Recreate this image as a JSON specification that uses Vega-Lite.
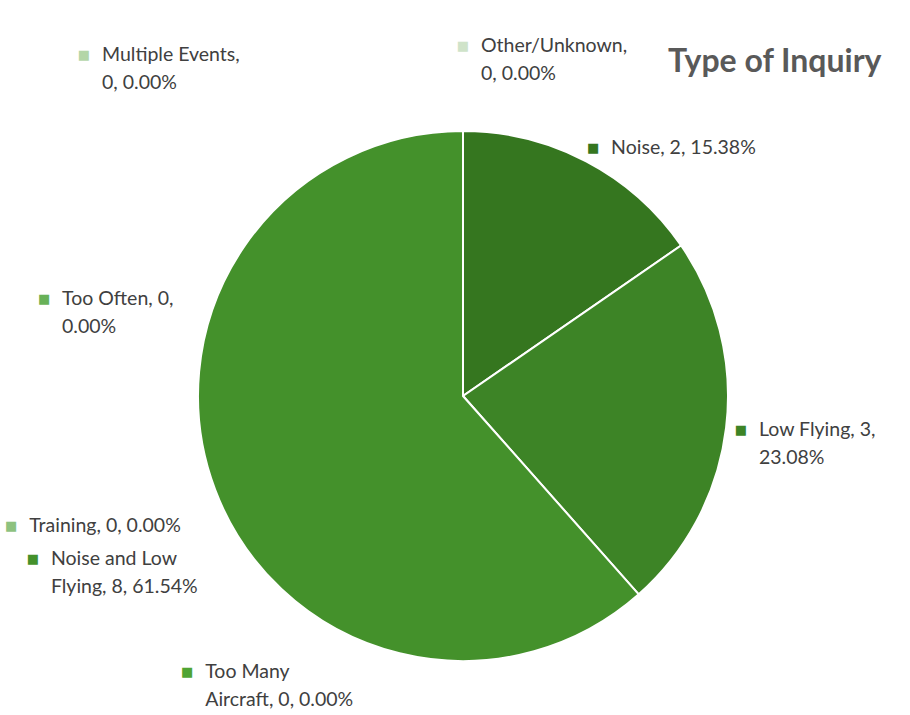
{
  "$schema": "https://vega.github.io/schema/vega-lite/v6.json",
  "width": 530,
  "height": 530,
  "autosize": {"type": "none"},
  "padding": {"left": 198, "top": 131, "right": 182, "bottom": 54},
  "background": "white",
  "config": {"view": {"stroke": null}},
  "title": {
    "text": "Type of Inquiry",
    "anchor": "start",
    "frame": "group",
    "dx": 470,
    "dy": 153,
    "offset": 0,
    "font": "Lato",
    "fontSize": 32,
    "fontWeight": "bold",
    "color": "#595959"
  },
  "data": {
    "values": [
      {"category": "Noise", "count": 2, "label": "Noise, 2, 15.38%"},
      {"category": "Low Flying", "count": 3, "label": "Low Flying, 3,\n23.08%"},
      {"category": "Noise and Low Flying", "count": 8, "label": "Noise and Low\nFlying, 8, 61.54%"},
      {"category": "Too Many Aircraft", "count": 0, "label": "Too Many\nAircraft, 0, 0.00%"},
      {"category": "Too Often", "count": 0, "label": "Too Often, 0,\n0.00%"},
      {"category": "Training", "count": 0, "label": "Training, 0, 0.00%"},
      {"category": "Multiple Events", "count": 0, "label": "Multiple Events,\n0, 0.00%"},
      {"category": "Other/Unknown", "count": 0, "label": "Other/Unknown,\n0, 0.00%"}
    ]
  },
  "transform": [{"window": [{"op": "row_number", "as": "idx"}]}],
  "layer": [
    {
      "mark": {"type": "arc", "stroke": "white", "strokeWidth": 2},
      "encoding": {
        "theta": {"field": "count", "type": "quantitative", "stack": true},
        "order": {"field": "idx", "type": "quantitative"},
        "color": {
          "field": "category",
          "type": "nominal",
          "scale": {
            "domain": ["Noise", "Low Flying", "Noise and Low Flying", "Too Many Aircraft", "Too Often", "Training", "Multiple Events", "Other/Unknown"],
            "range": ["#35761f", "#3d8426", "#44912b", "#4fa433", "#68b158", "#8dc27f", "#b3d6a8", "#cfe3c9"]
          },
          "legend": null
        }
      }
    },
    {
      "mark": {"type": "text", "radius": 280, "align": "left", "baseline": "middle", "dx": 18, "lineBreak": "\n", "lineHeight": 28, "font": "Lato", "fontSize": 19.5, "color": "#404040"},
      "encoding": {
        "theta": {"field": "count", "type": "quantitative", "stack": true},
        "order": {"field": "idx", "type": "quantitative"},
        "detail": {"field": "category", "type": "nominal"},
        "text": {"condition": {"test": "datum.category === 'Noise' || datum.category === 'Low Flying'", "field": "label"}, "value": ""}
      }
    },
    {
      "mark": {"type": "text", "radius": 280, "align": "center", "baseline": "middle", "font": "DejaVu Sans", "fontSize": 13},
      "encoding": {
        "theta": {"field": "count", "type": "quantitative", "stack": true},
        "order": {"field": "idx", "type": "quantitative"},
        "color": {"field": "category", "type": "nominal", "legend": null},
        "text": {"condition": {"test": "datum.category === 'Noise' || datum.category === 'Low Flying'", "value": "■"}, "value": ""}
      }
    },
    {
      "mark": {"type": "text", "radius": 460, "align": "left", "baseline": "middle", "dx": 18, "lineBreak": "\n", "lineHeight": 28, "font": "Lato", "fontSize": 19.5, "color": "#404040"},
      "encoding": {
        "theta": {"field": "count", "type": "quantitative", "stack": true},
        "order": {"field": "idx", "type": "quantitative"},
        "detail": {"field": "category", "type": "nominal"},
        "text": {"condition": {"test": "datum.category === 'Noise and Low Flying'", "field": "label"}, "value": ""}
      }
    },
    {
      "mark": {"type": "text", "radius": 460, "align": "center", "baseline": "middle", "font": "DejaVu Sans", "fontSize": 13},
      "encoding": {
        "theta": {"field": "count", "type": "quantitative", "stack": true},
        "order": {"field": "idx", "type": "quantitative"},
        "color": {"field": "category", "type": "nominal", "legend": null},
        "text": {"condition": {"test": "datum.category === 'Noise and Low Flying'", "value": "■"}, "value": ""}
      }
    },
    {
      "mark": {"type": "text", "radius": 350, "align": "left", "baseline": "middle", "dx": 18, "lineBreak": "\n", "lineHeight": 28, "font": "Lato", "fontSize": 19.5, "color": "#404040"},
      "encoding": {
        "theta": {"field": "count", "type": "quantitative", "stack": true},
        "order": {"field": "idx", "type": "quantitative"},
        "detail": {"field": "category", "type": "nominal"},
        "text": {"condition": {"test": "datum.category === 'Other/Unknown'", "field": "label"}, "value": ""}
      }
    },
    {
      "mark": {"type": "text", "radius": 350, "align": "center", "baseline": "middle", "font": "DejaVu Sans", "fontSize": 13},
      "encoding": {
        "theta": {"field": "count", "type": "quantitative", "stack": true},
        "order": {"field": "idx", "type": "quantitative"},
        "color": {"field": "category", "type": "nominal", "legend": null},
        "text": {"condition": {"test": "datum.category === 'Other/Unknown'", "value": "■"}, "value": ""}
      }
    },
    {
      "transform": [{"filter": {"field": "category", "oneOf": ["Multiple Events", "Too Often", "Training", "Too Many Aircraft"]}}],
      "mark": {"type": "text", "align": "left", "baseline": "middle", "dx": 18, "lineBreak": "\n", "lineHeight": 28, "font": "Lato", "fontSize": 19.5, "color": "#404040"},
      "encoding": {
        "theta": {"field": "category", "type": "nominal", "scale": {"type": "point", "domain": ["Multiple Events", "Too Often", "Training", "Too Many Aircraft"], "range": [5.4454, 3.927], "padding": 0}},
        "radius": {"field": "category", "type": "nominal", "scale": {"type": "point", "domain": ["Multiple Events", "Training", "Too Often", "Too Many Aircraft"], "range": [510, 390], "padding": 0}},
        "text": {"field": "label", "type": "nominal"}
      }
    },
    {
      "transform": [{"filter": {"field": "category", "oneOf": ["Multiple Events", "Too Often", "Training", "Too Many Aircraft"]}}],
      "mark": {"type": "text", "align": "center", "baseline": "middle", "font": "DejaVu Sans", "fontSize": 13},
      "encoding": {
        "theta": {"field": "category", "type": "nominal", "scale": {"type": "point", "domain": ["Multiple Events", "Too Often", "Training", "Too Many Aircraft"], "range": [5.4454, 3.927], "padding": 0}},
        "radius": {"field": "category", "type": "nominal", "scale": {"type": "point", "domain": ["Multiple Events", "Training", "Too Often", "Too Many Aircraft"], "range": [510, 390], "padding": 0}},
        "color": {"field": "category", "type": "nominal", "legend": null},
        "text": {"value": "■"}
      }
    }
  ],
  "resolve": {"scale": {"theta": "independent", "radius": "independent"}}
}
